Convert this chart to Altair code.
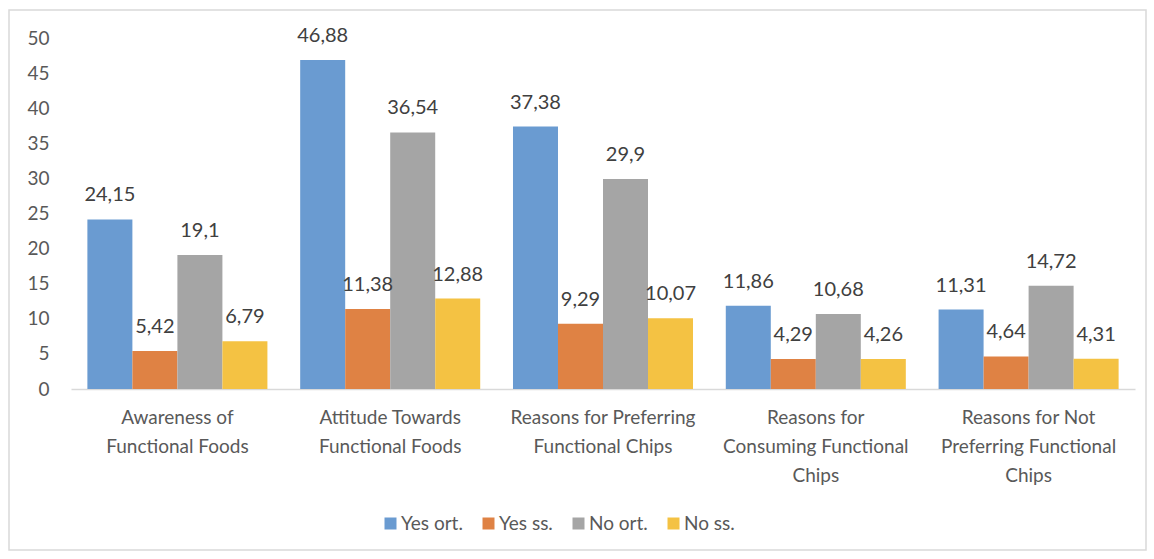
import altair as alt
import pandas as pd

categories = [
    "Awareness of|Functional Foods",
    "Attitude Towards|Functional Foods",
    "Reasons for Preferring|Functional Chips",
    "Reasons for|Consuming Functional|Chips",
    "Reasons for Not|Preferring Functional|Chips",
]
series = ["Yes ort.", "Yes ss.", "No ort.", "No ss."]
yes_ort = [24.15, 46.88, 37.38, 11.86, 11.31]
yes_ss = [5.42, 11.38, 9.29, 4.29, 4.64]
no_ort = [19.1, 36.54, 29.9, 10.68, 14.72]
no_ss = [6.79, 12.88, 10.07, 4.26, 4.31]
y_ticks = [0, 5, 10, 15, 20, 25, 30, 35, 40, 45, 50]
colors = ["#6A9BD1", "#DF8244", "#A5A5A5", "#F4C243"]

rows = []
for s, vals in zip(series, [yes_ort, yes_ss, no_ort, no_ss]):
    for c, v in zip(categories, vals):
        rows.append({"cat": c, "series": s, "value": v, "label": str(v).replace(".", ",")})
df = pd.DataFrame(rows)

FONT = "Lato"
TXT = "#595959"

y_enc = alt.Y("value:Q", title=None,
              scale=alt.Scale(domain=[0, 50], nice=False),
              axis=alt.Axis(values=y_ticks, grid=False,
                            domain=False, ticks=False, labelOverlap=False,
                            labelFontSize=19, labelColor=TXT, labelFont=FONT, labelPadding=22))

base = alt.Chart(df).encode(
    x=alt.X("cat:N", sort=categories, title=None,
            scale=alt.Scale(paddingInner=0.154, paddingOuter=0.077),
            axis=alt.Axis(labelExpr="split(datum.value, '|')", labelAngle=0,
                          labelFontSize=19, labelColor=TXT, labelFont=FONT, labelLimit=400,
                          labelLineHeight=29, labelPadding=19, ticks=False,
                          domainColor="#D9D9D9", domainWidth=1.5, labelBaseline="top")),
    xOffset=alt.XOffset("series:N", sort=series, scale=alt.Scale(paddingInner=0, paddingOuter=0)),
    y=y_enc,
)

bars = base.mark_bar().encode(
    color=alt.Color("series:N", sort=series,
                    scale=alt.Scale(domain=series, range=colors),
                    legend=alt.Legend(title=None, orient="none", direction="horizontal",
                                      legendX=310, legendY=476, symbolType="square",
                                      symbolSize=144, symbolStrokeWidth=0,
                                      labelFontSize=19, labelColor=TXT, labelFont=FONT,
                                      gridAlign="none",
                                      columnPadding=16, labelOffset=1)),
)

labels = base.mark_text(baseline="alphabetic", dy=-18, fontSize=20, color="#404040", font=FONT).encode(
    text="label:N",
)

border = alt.Chart(pd.DataFrame({"a": [0]})).mark_rect(
    fill=None, stroke="#D9D9D9", strokeWidth=1.5, clip=False
).encode(
    x=alt.value(-62), x2=alt.value(1075), y=alt.value(-28), y2=alt.value(512)
)

chart = alt.layer(border, bars, labels).properties(
    width=1064, height=351,
    autosize=alt.AutoSizeParams(type="none"),
    padding={"left": 71, "top": 38, "right": 19, "bottom": 170},
    background="white",
).configure_view(stroke=None).configure_axisY(labelOverlap=False, labelBound=False)

chart.save("out.html", embed_options={"renderer": "svg", "actions": False})
